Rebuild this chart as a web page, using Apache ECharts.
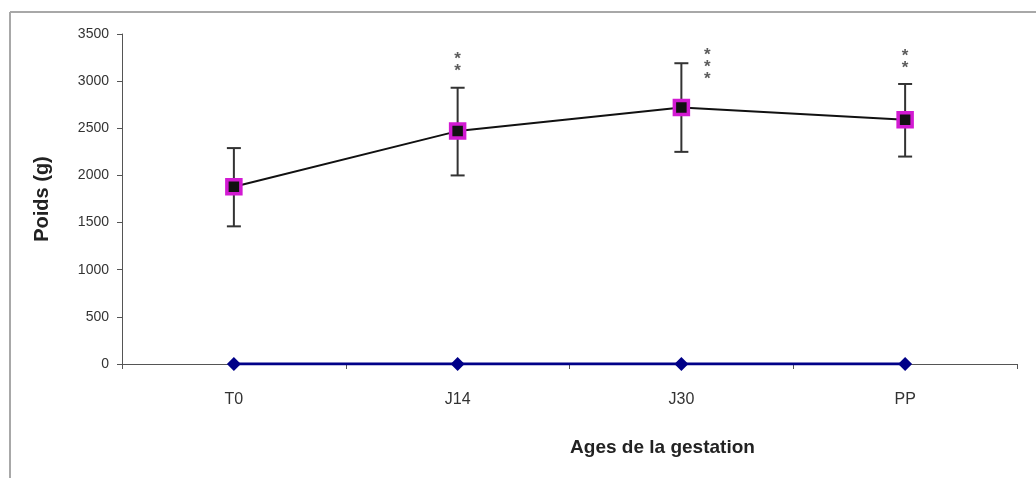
<!DOCTYPE html>
<html>
<head>
<meta charset="utf-8">
<style>
html,body{margin:0;padding:0;background:#fff;}
#chart{width:1036px;height:478px;}
</style>
<script src="https://cdn.jsdelivr.net/npm/echarts@6/dist/echarts.min.js"></script>
</head>
<body>
<div id="chart"></div>
<script>
const categories = ['T0', 'J14', 'J30', 'PP'];
const meanValues = [1880, 2470, 2720, 2590];
const errLow = [1460, 2000, 2250, 2200];
const errHigh = [2290, 2930, 3190, 2970];
const zeroValues = [0, 0, 0, 0];
const sigLabels = ['', '**', '***', '**'];
const yMin = 0, yMax = 3500, yStep = 500;

const chart = echarts.init(document.getElementById('chart'), null, {renderer: 'canvas'});

const errData = categories.map((c, i) => [i, errLow[i], errHigh[i]]);
const sigData = categories.map((c, i) => {
  const item = {value: [i, errHigh[i]]};
  if (sigLabels[i].length === 3) {
    item.label = {offset: [26, 32]};
  }
  return item;
});

chart.setOption({
  animation: false,
  backgroundColor: '#ffffff',
  grid: {left: 122, right: 19, top: 34, bottom: 114, containLabel: false},
  graphic: [
    {type: 'line', shape: {x1: 10, y1: 12, x2: 1036, y2: 12}, style: {stroke: '#a8a8a8', lineWidth: 2}, silent: true},
    {type: 'line', shape: {x1: 10, y1: 12, x2: 10, y2: 478}, style: {stroke: '#a8a8a8', lineWidth: 2}, silent: true}
  ],
  xAxis: {
    type: 'category',
    data: categories,
    boundaryGap: true,
    name: 'Ages de la gestation',
    nameLocation: 'middle',
    nameGap: 74,
    nameTextStyle: {fontFamily: 'Liberation Sans', fontWeight: 'bold', fontSize: 19, color: '#222', padding: [0, 0, 0, 186]},
    axisLine: {lineStyle: {color: '#555', width: 1}},
    axisTick: {show: true, length: 5, alignWithLabel: false, lineStyle: {color: '#555'}},
    axisLabel: {fontFamily: 'Liberation Sans', fontSize: 16, color: '#333', margin: 28},
    splitLine: {show: false}
  },
  yAxis: {
    type: 'value',
    min: yMin, max: yMax, interval: yStep,
    name: 'Poids (g)',
    nameLocation: 'middle',
    nameGap: 70,
    nameTextStyle: {fontFamily: 'Liberation Sans', fontWeight: 'bold', fontSize: 20, color: '#222'},
    axisLine: {show: true, lineStyle: {color: '#555', width: 1}},
    axisTick: {show: true, length: 5, lineStyle: {color: '#555'}},
    axisLabel: {fontFamily: 'Liberation Sans', fontSize: 14, color: '#333', margin: 13, formatter: function (v) { return String(v); }},
    splitLine: {show: false}
  },
  series: [
    {
      type: 'custom',
      name: 'err',
      z: 2,
      data: errData,
      renderItem: function (params, api) {
        const x = api.coord([api.value(0), api.value(1)])[0];
        const yLo = api.coord([api.value(0), api.value(1)])[1];
        const yHi = api.coord([api.value(0), api.value(2)])[1];
        const hw = 7;
        const st = {stroke: '#333', lineWidth: 2};
        return {
          type: 'group',
          children: [
            {type: 'line', shape: {x1: x, y1: yLo, x2: x, y2: yHi}, style: st},
            {type: 'line', shape: {x1: x - hw, y1: yLo, x2: x + hw, y2: yLo}, style: st},
            {type: 'line', shape: {x1: x - hw, y1: yHi, x2: x + hw, y2: yHi}, style: st}
          ]
        };
      }
    },
    {
      type: 'line',
      name: 'Poids',
      z: 3,
      data: meanValues,
      symbol: 'rect',
      symbolSize: 14,
      lineStyle: {color: '#111', width: 2},
      itemStyle: {color: '#111', borderColor: '#d21ad2', borderWidth: 3.5}
    },
    {
      type: 'line',
      name: 'zero',
      z: 3,
      data: zeroValues,
      symbol: 'diamond',
      symbolSize: 14,
      lineStyle: {color: '#000088', width: 3},
      itemStyle: {color: '#000088'}
    },
    {
      type: 'scatter',
      name: 'sig',
      z: 4,
      symbolSize: 0,
      data: sigData,
      label: {
        show: true,
        position: 'top',
        distance: 10,
        fontFamily: 'Liberation Sans',
        fontWeight: 'bold',
        fontSize: 17,
        lineHeight: 12,
        color: '#333',
        formatter: function (p) { return sigLabels[p.dataIndex].split('').join('\n'); }
      }
    }
  ]
});
</script>
</body>
</html>
